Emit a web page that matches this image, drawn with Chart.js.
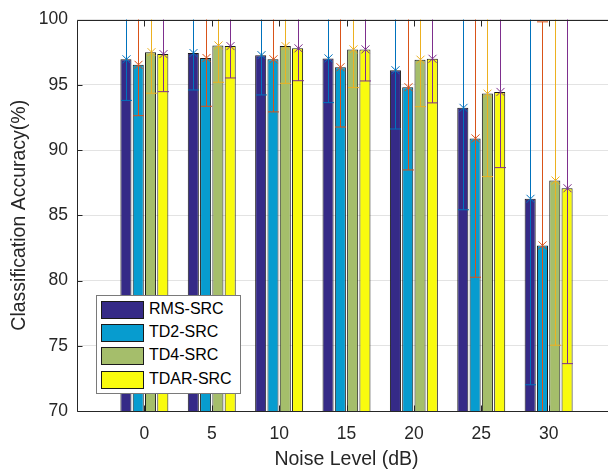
<!DOCTYPE html>
<html>
<head>
<meta charset="utf-8">
<script src="https://cdn.jsdelivr.net/npm/chart.js@4.4.1/dist/chart.umd.min.js"></script>
<style>
  html, body { margin: 0; padding: 0; background: #fff; overflow: hidden; }
  #wrap { position: relative; width: 616px; height: 469px; }
  #legend { position: absolute; left: 96px; top: 295px; width: 145px; height: 99px; box-sizing: border-box;
            border: 1px solid #7a7a7a; background: #fff; font-family: "Liberation Sans", Arial, sans-serif; font-size: 16px; color: #000; }
  #legend .row { position: absolute; left: 4px; height: 17px; }
  #legend .sw { position: absolute; left: 0; top: 0; width: 41px; height: 16px; border: 1px solid #1a1a1a; }
  #legend .tx { position: absolute; left: 48px; top: -1px; line-height: 18px; white-space: nowrap; }
</style>
</head>
<body>
<div id="wrap">
  <canvas id="chart" width="616" height="469"></canvas>
  <div id="legend"></div>
</div>
<script>
// data
const noiseLevels = [0, 5, 10, 15, 20, 25, 30];
const seriesNames = ['RMS-SRC', 'TD2-SRC', 'TD4-SRC', 'TDAR-SRC'];
const rmsSrc  = [96.95, 97.43, 97.27, 97.02, 96.11, 93.23, 86.26];
const td2Src  = [96.53, 97.05, 96.95, 96.34, 94.81, 90.89, 82.69];
const td4Src  = [97.50, 98.01, 97.96, 97.71, 96.92, 94.32, 87.66];
const tdarSrc = [97.35, 97.96, 97.79, 97.71, 96.99, 94.45, 87.07];
const rmsErr  = [3.15, 2.83, 3.05, 3.39, 4.50, 7.81, 14.25];
const td2Err  = [3.90, 3.70, 4.03, 4.58, 6.34, 10.64, 17.13];
const td4Err  = [3.15, 2.82, 2.85, 2.93, 3.60, 6.36, 12.62];
const tdarErr = [2.88, 2.44, 2.48, 2.42, 3.38, 5.80, 13.44];
const yTicks = [70, 75, 80, 85, 90, 95, 100];

const barColors = ['#352A87', '#079CCF', '#A5BE6B', '#F9FB0E'];
const errColors = ['#0072BD', '#D95319', '#EDB120', '#7E2F8E'];
const axisColor = '#262626';
const fontFamily = '"Liberation Sans", Arial, sans-serif';

const values = [rmsSrc, td2Src, td4Src, tdarSrc];
const errors = [rmsErr, td2Err, td4Err, tdarErr];

// error bars, markers and the matlab style box ticks
const errorBars = {
  id: 'errorBars',
  afterDatasetsDraw(chart) {
    const ctx = chart.ctx;
    const a = chart.chartArea;
    const y = chart.scales.y;
    const x = chart.scales.x;
    ctx.save();
    ctx.beginPath();
    ctx.rect(a.left, a.top, a.right - a.left, a.bottom - a.top);
    ctx.clip();
    chart.data.datasets.forEach((ds, di) => {
      const meta = chart.getDatasetMeta(di);
      ctx.strokeStyle = ds.errorColor;
      ctx.lineWidth = 1;
      meta.data.forEach((bar, i) => {
        const v = ds.data[i].y;
        const e = ds.errors[i];
        const px = Math.round(bar.x) + 0.5;
        const top = y.getPixelForValue(v + e);
        const bot = y.getPixelForValue(v - e);
        const mid = y.getPixelForValue(v);
        ctx.beginPath();
        ctx.moveTo(px, top); ctx.lineTo(px, bot);
        ctx.moveTo(px - 5.5, top); ctx.lineTo(px + 5.5, top);
        ctx.moveTo(px - 5.5, bot); ctx.lineTo(px + 5.5, bot);
        // x marker
        ctx.moveTo(px - 4, mid - 4); ctx.lineTo(px + 4, mid + 4);
        ctx.moveTo(px - 4, mid + 4); ctx.lineTo(px + 4, mid - 4);
        ctx.stroke();
      });
    });
    ctx.restore();

    // axes box (right side is off the picture)
    ctx.save();
    ctx.strokeStyle = axisColor;
    ctx.lineWidth = 1;
    const L = Math.round(a.left) + 0.5, T = Math.round(a.top) + 0.5, B = Math.round(a.bottom) + 0.5;
    ctx.beginPath();
    ctx.moveTo(a.right, T); ctx.lineTo(L, T); ctx.lineTo(L, B); ctx.lineTo(a.right, B);
    noiseLevels.forEach(n => {
      const px = Math.round(x.getPixelForValue(n)) + 0.5;
      ctx.moveTo(px, T); ctx.lineTo(px, T + 6);
      ctx.moveTo(px, B); ctx.lineTo(px, B - 6);
    });
    yTicks.forEach(t => {
      const py = Math.round(y.getPixelForValue(t)) + 0.5;
      ctx.moveTo(L, py); ctx.lineTo(L + 5, py);
    });
    ctx.stroke();
    ctx.restore();
  }
};

const datasets = seriesNames.map((name, k) => ({
  label: name,
  data: noiseLevels.map((n, i) => ({x: n, y: values[k][i]})),
  errors: errors[k],
  errorColor: errColors[k],
  backgroundColor: barColors[k],
  borderColor: '#1a1a1a',
  borderWidth: 1,
  borderSkipped: false,
  categoryPercentage: 0.73,
  barPercentage: 0.9
}));

new Chart(document.getElementById('chart'), {
  type: 'bar',
  data: {datasets: datasets},
  plugins: [errorBars],
  options: {
    responsive: false,
    animation: false,
    layout: {padding: {top: 17, right: 0, left: 0, bottom: 0}},
    plugins: {legend: {display: false}, tooltip: {enabled: false}},
    scales: {
      x: {
        type: 'linear',
        min: -5,
        max: 35,
        offset: false,
        afterBuildTicks: (s) => { s.ticks = noiseLevels.map(v => ({value: v})); },
        afterFit: (s) => { s.height = 58; },
        grid: {display: false, drawTicks: false, offset: false},
        border: {display: false},
        ticks: {color: axisColor, padding: 13, font: {family: fontFamily, size: 17.5}, maxRotation: 0},
        title: {display: true, text: 'Noise Level (dB)', color: axisColor, padding: {top: 0, bottom: 0},
                font: {family: fontFamily, size: 19.5, lineHeight: 1}}
      },
      y: {
        min: 70,
        max: 100,
        afterBuildTicks: (s) => { s.ticks = yTicks.map(v => ({value: v})); },
        afterFit: (s) => { s.width = 77; },
        grid: {color: '#e3e3e3', drawTicks: false},
        border: {display: false},
        ticks: {color: axisColor, padding: 9, font: {family: fontFamily, size: 17.5}},
        title: {display: true, text: 'Classification Accuracy(%)', color: axisColor, padding: {top: 8, bottom: 0},
                font: {family: fontFamily, size: 19.5, lineHeight: 1.2}}
      }
    }
  }
});

// legend box inside the axes
const legend = document.getElementById('legend');
seriesNames.forEach((name, k) => {
  const row = document.createElement('div');
  row.className = 'row';
  row.style.top = (5 + k * 23.2) + 'px';
  row.innerHTML = '<div class="sw" style="background:' + barColors[k] + '"></div><div class="tx">' + name + '</div>';
  legend.appendChild(row);
});
</script>
</body>
</html>
